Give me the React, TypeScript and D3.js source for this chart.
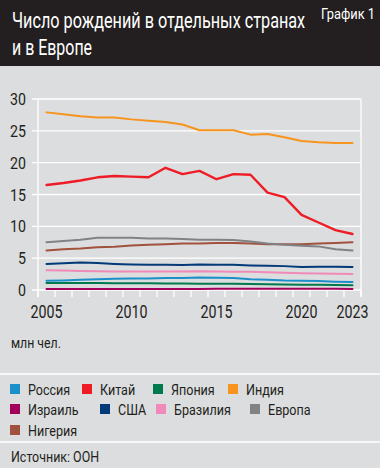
import React from "react";
import * as d3 from "d3";

const years = d3.range(2005, 2024);
const russia = [1.45, 1.5, 1.6, 1.7, 1.75, 1.8, 1.8, 1.9, 1.9, 1.95, 1.94, 1.89, 1.69, 1.6, 1.48, 1.44, 1.4, 1.3, 1.25];
const china = [16.5, 16.8, 17.2, 17.7, 17.9, 17.8, 17.7, 19.2, 18.2, 18.7, 17.4, 18.2, 18.1, 15.3, 14.6, 11.8, 10.6, 9.4, 8.8];
const japan = [1.1, 1.09, 1.09, 1.09, 1.07, 1.07, 1.05, 1.04, 1.03, 1.0, 1.0, 0.98, 0.95, 0.92, 0.87, 0.84, 0.81, 0.77, 0.73];
const india = [27.9, 27.6, 27.3, 27.1, 27.1, 26.8, 26.6, 26.4, 26.0, 25.1, 25.1, 25.1, 24.4, 24.5, 24.0, 23.4, 23.2, 23.1, 23.1];
const israel = [0.14, 0.15, 0.15, 0.16, 0.16, 0.17, 0.17, 0.17, 0.17, 0.17, 0.18, 0.18, 0.18, 0.18, 0.18, 0.18, 0.18, 0.18, 0.17];
const usa = [4.1, 4.2, 4.3, 4.25, 4.1, 4.0, 3.95, 3.95, 3.93, 4.0, 3.98, 3.95, 3.86, 3.79, 3.75, 3.6, 3.66, 3.67, 3.6];
const brazil = [3.1, 3.05, 3.0, 2.95, 2.9, 2.9, 2.9, 2.9, 2.9, 2.95, 2.9, 2.85, 2.85, 2.8, 2.7, 2.65, 2.6, 2.55, 2.5];
const europe = [7.5, 7.7, 7.9, 8.2, 8.2, 8.2, 8.1, 8.1, 8.0, 7.9, 7.9, 7.85, 7.6, 7.3, 7.1, 6.95, 6.85, 6.4, 6.2];
const nigeria = [6.2, 6.4, 6.5, 6.7, 6.8, 7.0, 7.1, 7.2, 7.3, 7.3, 7.4, 7.4, 7.3, 7.2, 7.2, 7.2, 7.3, 7.4, 7.5];

const seriesNames = ["Россия", "Китай", "Япония", "Индия", "Израиль", "США", "Бразилия", "Европа", "Нигерия"];
const seriesValues = [russia, china, japan, india, israel, usa, brazil, europe, nigeria];
const seriesColors = ["#1a8fc9", "#ee1c25", "#007a4d", "#f7941d", "#a3005b", "#003a78", "#f08ab8", "#808285", "#a0523d"];
const drawOrder = [4, 2, 0, 6, 5, 8, 7, 1, 3];

const yTicks = [0, 5, 10, 15, 20, 25, 30];
const xTickLabels = [2005, 2010, 2015, 2020, 2023];

const title1 = "Число рождений в отдельных странах";
const title2 = "и в Европе";
const chartNo = "График 1";
const unit = "млн чел.";
const source = "Источник: ООН";

// legend layout (rows, square x positions)
const legendRows = [[0, 1, 2, 3], [4, 5, 6, 7], [8]];
const legendX = [[10, 82, 153, 228], [10, 100, 156, 250], [10]];
const legendY = [389, 409, 430];

const FONT = "Roboto, 'Noto Sans', sans-serif";
const INK = "#231f20";

function T(props: { x: number; y: number; size: number; sx?: number; anchor?: string; fill?: string; children: React.ReactNode }) {
  const { x, y, size, sx = 0.8, anchor = "start", fill = INK, children } = props;
  return (
    <text transform={`translate(${x},${y}) scale(${sx},1)`} fontSize={size} fill={fill} textAnchor={anchor}>
      {children}
    </text>
  );
}

// text squeezed horizontally to a target width (measured)
function Fit(props: { x: number; y: number; size: number; width: number; fill?: string; children: React.ReactNode }) {
  const { x, y, size, width, fill = INK, children } = props;
  const ref = React.useRef<SVGTextElement>(null);
  const [sx, setSx] = React.useState(0.8);
  React.useLayoutEffect(() => {
    if (ref.current) {
      const w = ref.current.getComputedTextLength();
      if (w > 0) setSx(width / w);
    }
  }, [width, size]);
  return (
    <text ref={ref} transform={`translate(${x},${y}) scale(${sx},1)`} fontSize={size} fill={fill}>
      {children}
    </text>
  );
}

export default function App() {
  const W = 380, H = 468;
  const x = d3.scaleLinear().domain([2004.5, 2023.5]).range([38, 361]);
  const y = d3.scaleLinear().domain([0, 30]).range([290, 99]);
  const line = d3.line<number>().x((_, i) => x(years[i])).y((d) => y(d)).curve(d3.curveLinear);
  const tickYears = d3.range(2004.5, 2024, 1);

  return (
    <svg width={W} height={H} style={{ display: "block", position: "absolute", left: 0, top: 0, fontFamily: FONT }}>
      <rect x={0} y={0} width={W} height={H} fill="#dcdddf" />
      <rect x={0} y={0} width={W} height={66} fill={INK} />
      <Fit x={12} y={28} size={22.5} width={293} fill="#fff">{title1}</Fit>
      <Fit x={12} y={55} size={22.5} width={80} fill="#fff">{title2}</Fit>
      <Fit x={321} y={19} size={14} width={54} fill="#fff">{chartNo}</Fit>

      {yTicks.map((t) => (
        <line key={t} x1={32} x2={361} y1={y(t)} y2={y(t)} stroke="#fff" strokeWidth={1.3} />
      ))}
      {yTicks.map((t) => (
        <T key={t} x={26} y={y(t) + 6} size={16.5} sx={0.86} anchor="end">{t}</T>
      ))}
      <line x1={38} x2={38} y1={99} y2={297} stroke="#fff" strokeWidth={1.3} />
      <line x1={361} x2={361} y1={99} y2={297} stroke="#fff" strokeWidth={1.3} />
      {tickYears.map((t) => (
        <line key={t} x1={x(t)} x2={x(t)} y1={290} y2={297} stroke="#fff" strokeWidth={1.3} />
      ))}
      {xTickLabels.map((t) => (
        <T key={t} x={x(t)} y={318} size={18.5} sx={0.77} anchor="middle">{t}</T>
      ))}

      {drawOrder.map((i) => (
        <path key={i} d={line(seriesValues[i]) || ""} fill="none" stroke={seriesColors[i]} strokeWidth={i === 1 ? 2.4 : 2} strokeLinejoin="round" strokeLinecap="round" />
      ))}

      <T x={11} y={348} size={15} sx={0.82}>{unit}</T>
      <line x1={0} x2={W} y1={374} y2={374} stroke="#fff" strokeWidth={1.5} />
      {legendRows.map((row, r) =>
        row.map((i, k) => (
          <g key={i}>
            <rect x={legendX[r][k]} y={legendY[r] - 5} width={10} height={10} fill={seriesColors[i]} />
            <T x={legendX[r][k] + 18} y={legendY[r] + 5.5} size={15.5} sx={0.81}>{seriesNames[i]}</T>
          </g>
        ))
      )}
      <line x1={0} x2={W} y1={442} y2={442} stroke="#fff" strokeWidth={1.5} />
      <T x={11} y={462} size={15} sx={0.83}>{source}</T>
    </svg>
  );
}
